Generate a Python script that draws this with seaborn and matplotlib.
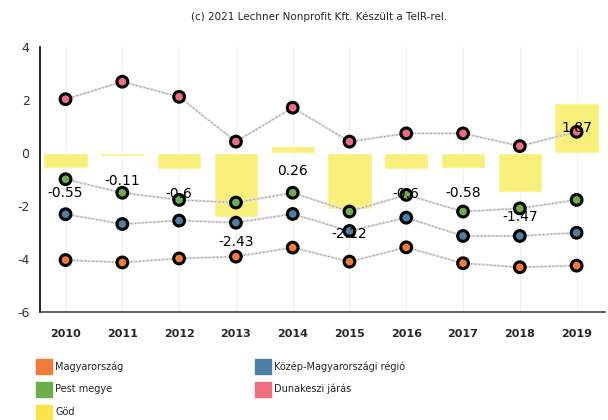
import pandas as pd
import matplotlib.pyplot as plt
import seaborn as sns
import numpy as np
from matplotlib.patches import Patch

# --- data ---
years = [2010, 2011, 2012, 2013, 2014, 2015, 2016, 2017, 2018, 2019]
magyarorszag = [-4.04, -4.13, -3.98, -3.91, -3.57, -4.10, -3.56, -4.16, -4.31, -4.25]
kozep_mo = [-2.31, -2.68, -2.55, -2.63, -2.30, -2.94, -2.44, -3.13, -3.13, -3.01]
pest_megye = [-0.99, -1.50, -1.77, -1.87, -1.50, -2.21, -1.58, -2.21, -2.09, -1.77]
dunakeszi = [2.03, 2.69, 2.12, 0.43, 1.71, 0.43, 0.74, 0.74, 0.26, 0.80]
god = [-0.55, -0.11, -0.6, -2.43, 0.26, -2.12, -0.6, -0.58, -1.47, 1.87]

series_names = ['Magyarország', 'Közép-Magyarországi régió', 'Pest megye', 'Dunakeszi járás']
series_vals = [magyarorszag, kozep_mo, pest_megye, dunakeszi]
colors = {'Magyarország': '#f47a3a', 'Közép-Magyarországi régió': '#4e7ea6',
          'Pest megye': '#6cae4c', 'Dunakeszi járás': '#f06d80', 'Göd': '#fbe34a'}

sns.set_style('white')
plt.rcParams['font.family'] = ['DejaVu Sans']
plt.rcParams['axes.unicode_minus'] = False

pos = np.arange(len(years))
df_lines = pd.concat([pd.DataFrame({'pos': pos, 'value': v, 'series': n})
                      for n, v in zip(series_names, series_vals)], ignore_index=True)
df_god = pd.DataFrame({'year': [str(y) for y in years], 'value': god})

fig = plt.figure(figsize=(6.08, 4.20), dpi=100)
ax = fig.add_axes([40 / 608, 108 / 420, 565 / 608, 265 / 420])

# faint vertical grid
for p in pos:
    ax.axvline(p, color='#f0f0f0', lw=0.8, zorder=0)

# Göd bars
sns.barplot(data=df_god, x='year', y='value', color='#f9f07c', width=0.78,
            saturation=1, ax=ax, zorder=1)

# connecting lines (light grey, partly dotted) + coloured markers
for n in series_names:
    sub = df_lines[df_lines['series'] == n]
    sns.lineplot(data=sub, x='pos', y='value', color='#dcdcdc', lw=1.6, ax=ax,
                 zorder=2, legend=False)
    sns.lineplot(data=sub, x='pos', y='value', color='#888888', lw=0.7,
                 linestyle=(0, (1, 3)), ax=ax, zorder=2, legend=False)
sns.scatterplot(data=df_lines, x='pos', y='value', hue='series', palette=colors,
                s=60, edgecolor='black', linewidth=2.2, ax=ax, zorder=3, legend=False)

# value labels for Göd
for p, v in zip(pos, god):
    ax.annotate(f'{v:g}', (p, v), xytext=(0, -18), textcoords='offset points',
                ha='center', va='center', fontsize=10, color='black', zorder=4)

ax.set_xlim(-0.45, 9.5)
ax.set_ylim(-6, 4)
ax.set_yticks([-6, -4, -2, 0, 2, 4])
ax.set_xticks(pos)
ax.set_xticklabels([str(y) for y in years], fontsize=8, fontweight='bold')
ax.tick_params(axis='y', labelsize=9, length=4, width=1, direction='out',
               labelcolor='#333333')
ax.tick_params(axis='x', length=4, width=1, direction='out', pad=8)
ax.set_xlabel('')
ax.set_ylabel('')
for s in ['top', 'right']:
    ax.spines[s].set_visible(False)
ax.spines['left'].set_color('black')
ax.spines['bottom'].set_color('#444444')
ax.spines['left'].set_linewidth(1.2)
ax.spines['bottom'].set_linewidth(1.2)

fig.text(0.525, 0.96, '(c) 2021 Lechner Nonprofit Kft. Készült a TeIR-rel.',
         ha='center', va='center', fontsize=7.5)

handles = [Patch(color=colors[n], label=n) for n in
           ['Magyarország', 'Pest megye', 'Göd', 'Közép-Magyarországi régió', 'Dunakeszi járás']]
fig.legend(handles=handles, loc='upper left', bbox_to_anchor=(36 / 608, 1 - 359 / 420),
           ncol=2, frameon=False, fontsize=7, handlelength=1.6, handleheight=2.0,
           columnspacing=13.5, labelspacing=0.8, handletextpad=0.4,
           borderpad=0, borderaxespad=0)

fig.savefig('out.png', dpi=100)
